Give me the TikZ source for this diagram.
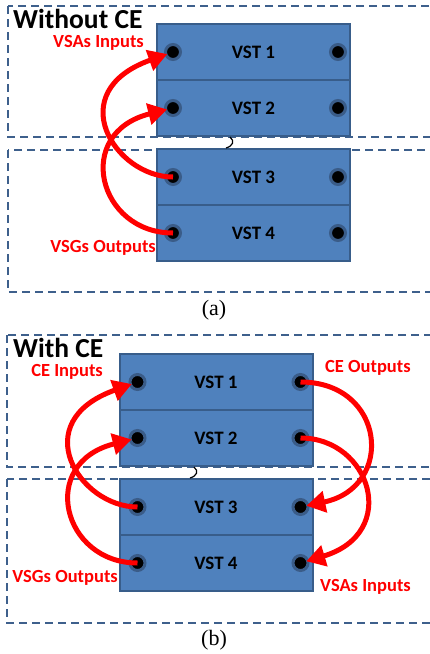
\documentclass[tikz,border=0pt]{standalone}
\usepackage{fontspec}
\usepackage{tikz}
\usetikzlibrary{arrows.meta, positioning, calc}
\newfontfamily\calibrifont{Carlito}
\newfontfamily\timesfont{Liberation Serif}
\definecolor{boxfill}{RGB}{79,129,189}
\definecolor{boxedge}{RGB}{56,93,138}
\definecolor{ringblue}{RGB}{58,92,136}
\definecolor{frameblue}{RGB}{62,96,140}
\definecolor{sigred}{RGB}{255,0,0}
\tikzset{
  vst/.style={rectangle, draw=boxedge, fill=boxfill, line width=2pt,
    minimum width=193pt, minimum height=56pt, inner sep=0pt, outer sep=0pt,
    font=\calibrifont\bfseries\fontsize{19}{21}\selectfont, text=black},
  port/.style={circle, fill=black, draw=ringblue, line width=3pt,
    minimum size=15pt, inner sep=0pt},
  sigarrow/.style={draw=sigred, line width=5pt, shorten >=-3pt,
    -{Triangle[length=19pt,width=21pt]}},
  sigtext/.style={text=sigred, inner sep=0pt,
    font=\calibrifont\bfseries\fontsize{18.5}{20}\selectfont},
  titletext/.style={inner sep=0pt,
    font=\calibrifont\bfseries\fontsize{27.5}{30}\selectfont},
  captext/.style={inner sep=0pt, font=\timesfont\fontsize{22}{24}\selectfont},
  zoneframe/.style={draw=frameblue, line width=2.2pt, dash pattern=on 8pt off 5pt},
  joint/.style={draw=black, line width=1.2pt}
}
\begin{document}
\begin{tikzpicture}[x=1pt, y=-1pt]
  \useasboundingbox (0,0) rectangle (430,654);
  % ---------------- (a) Without CE ----------------
  % Zones
  \draw[zoneframe] (8,6) rectangle (445,137);
  \draw[zoneframe] (8,150) rectangle (445,292);
  % VST stack
  \node[vst] (vstA1) at (253.5,52) {VST 1};
  \node[vst, below=0pt of vstA1] (vstA2) {VST 2};
  \node[vst] (vstA3) at (253.5,177) {VST 3};
  \node[vst, below=0pt of vstA3] (vstA4) {VST 4};
  \draw[joint] (230,137) .. controls (235,141) and (233,146) .. (226,148);
  % Ports
  \node[port] (a1l) at ($(vstA1.west)+(16,0)$) {};
  \node[port] (a1r) at ($(vstA1.east)+(-12,0)$) {};
  \node[port] (a2l) at ($(vstA2.west)+(16,0)$) {};
  \node[port] (a2r) at ($(vstA2.east)+(-12,0)$) {};
  \node[port] (a3l) at ($(vstA3.west)+(16,0)$) {};
  \node[port] (a3r) at ($(vstA3.east)+(-12,0)$) {};
  \node[port] (a4l) at ($(vstA4.west)+(16,0)$) {};
  \node[port] (a4r) at ($(vstA4.east)+(-12,0)$) {};
  % Signal paths
  \draw[sigarrow] (a3l.center) .. controls +(-58,0) and +(-112,40) .. (a1l);
  \draw[sigarrow] (a4l.center) .. controls +(-75,0) and +(-100,25) .. (a2l);
  % Labels
  \node[titletext, anchor=west] (titleA) at (13,18.5) {Without CE};
  \node[sigtext, anchor=east] (vsaA) at (144,42.5) {VSAs Inputs};
  \node[sigtext, anchor=east] (vsgA) at (156,248) {VSGs Outputs};
  \node[captext] (capA) at (214,310) {(a)};
  % ---------------- (b) With CE ----------------
  % Zones
  \draw[zoneframe] (7,335) rectangle (445,467);
  \draw[zoneframe] (7,479) rectangle (445,623);
  % VST stack
  \node[vst] (vstB1) at (216,382) {VST 1};
  \node[vst, below=0pt of vstB1] (vstB2) {VST 2};
  \node[vst] (vstB3) at (216,507) {VST 3};
  \node[vst, below=0pt of vstB3] (vstB4) {VST 4};
  \draw[joint] (194,467) .. controls (199,471) and (197,476) .. (190,478);
  % Ports
  \node[port] (b1l) at ($(vstB1.west)+(18,0)$) {};
  \node[port] (b1r) at ($(vstB1.east)+(-12,0)$) {};
  \node[port] (b2l) at ($(vstB2.west)+(18,0)$) {};
  \node[port] (b2r) at ($(vstB2.east)+(-12,0)$) {};
  \node[port] (b3l) at ($(vstB3.west)+(18,0)$) {};
  \node[port] (b3r) at ($(vstB3.east)+(-12,0)$) {};
  \node[port] (b4l) at ($(vstB4.west)+(18,0)$) {};
  \node[port] (b4r) at ($(vstB4.east)+(-12,0)$) {};
  % Signal paths
  \draw[sigarrow] (b3l.center) .. controls +(-58,0) and +(-112,40) .. (b1l);
  \draw[sigarrow] (b4l.center) .. controls +(-75,0) and +(-100,25) .. (b2l);
  \draw[sigarrow] (b1r.center) .. controls +(85,0) and +(95,-20) .. (b3r);
  \draw[sigarrow] (b2r.center) .. controls +(70,0) and +(100,-30) .. (b4r);
  % Labels
  \node[titletext, anchor=west] (titleB) at (13,348) {With CE};
  \node[sigtext, anchor=east] (ceinB) at (103,371.5) {CE Inputs};
  \node[sigtext, anchor=west] (ceoutB) at (325,368) {CE Outputs};
  \node[sigtext, anchor=east] (vsgB) at (118,578) {VSGs Outputs};
  \node[sigtext, anchor=west] (vsaB) at (320,587) {VSAs Inputs};
  \node[captext] (capB) at (214,640) {(b)};
\end{tikzpicture}
\end{document}
